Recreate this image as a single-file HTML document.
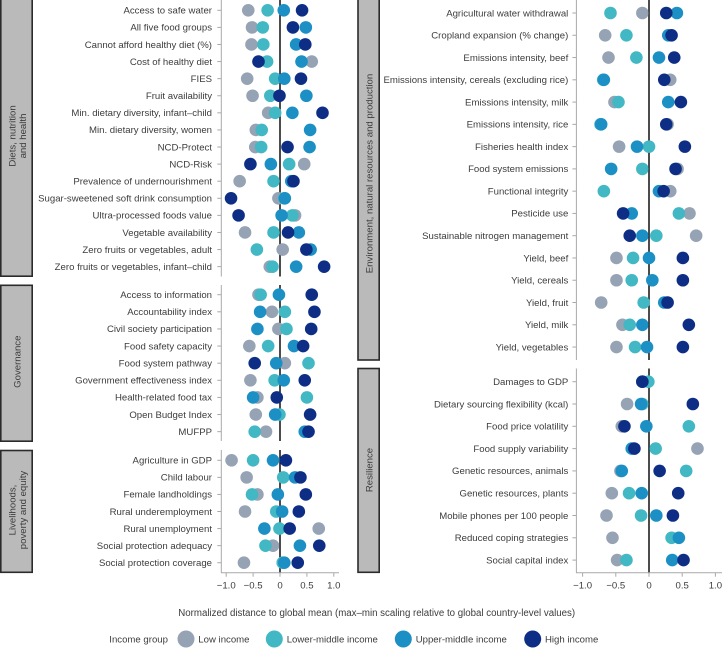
<!DOCTYPE html>
<html lang="en">
<head>
<meta charset="utf-8">
<title>Normalized distance to global mean by income group</title>
<style>
html,body{margin:0;padding:0;background:#fff;}
svg{display:block;font-family:"Liberation Sans",sans-serif;}
text{fill:#3c3c3c;}
</style>
</head>
<body>
<svg id="chart" xmlns="http://www.w3.org/2000/svg" width="722" height="648" viewBox="0 0 722 648"></svg>
<script>
// ---- data: series order is low, lower-middle, upper-middle, high ----
var seriesNames = ['Low income', 'Lower-middle income', 'Upper-middle income', 'High income'];
var tickValues = [-1, -0.5, 0, 0.5, 1];
var tickLabels = ['\u22121.0', '\u22120.5', '0', '0.5', '1.0'];

var dietsLabels = ['Access to safe water','All five food groups','Cannot afford healthy diet (%)','Cost of healthy diet','FIES','Fruit availability','Min. dietary diversity, infant\u2013child','Min. dietary diversity, women','NCD-Protect','NCD-Risk','Prevalence of undernourishment','Sugar-sweetened soft drink consumption','Ultra-processed foods value','Vegetable availability','Zero fruits or vegetables, adult','Zero fruits or vegetables, infant\u2013child'];
var dietsLow = [-0.59,-0.52,-0.53,0.59,-0.61,-0.51,-0.22,-0.45,-0.46,0.45,-0.75,-0.03,0.28,-0.65,0.05,-0.19];
var dietsLower = [-0.23,-0.32,-0.31,-0.24,-0.09,-0.18,-0.09,-0.34,-0.35,0.17,-0.12,0.08,0.23,-0.12,-0.43,-0.14];
var dietsUpper = [0.07,0.48,0.30,0.40,0.08,0.49,0.23,0.56,0.55,-0.17,0.21,0.09,0.03,0.35,0.57,0.30];
var dietsHigh = [0.41,0.24,0.47,-0.40,0.39,-0.01,0.79,null,0.14,-0.55,0.25,-0.91,-0.77,0.15,0.49,0.82];

var govLabels = ['Access to information','Accountability index','Civil society participation','Food safety capacity','Food system pathway','Government effectiveness index','Health-related food tax','Open Budget Index','MUFPP'];
var govLow = [-0.40,-0.15,-0.03,-0.57,0.09,-0.55,-0.42,-0.45,-0.26];
var govLower = [-0.36,0.09,0.12,-0.22,0.53,-0.10,0.50,-0.01,-0.47];
var govUpper = [-0.02,-0.37,-0.42,0.26,-0.07,0.07,-0.50,-0.09,0.46];
var govHigh = [0.59,0.64,0.58,0.43,-0.47,0.46,-0.06,0.56,0.53];

var liveLabels = ['Agriculture in GDP','Child labour','Female landholdings','Rural underemployment','Rural unemployment','Social protection adequacy','Social protection coverage'];
var liveLow = [-0.90,-0.62,-0.42,-0.65,0.72,-0.13,-0.67];
var liveLower = [-0.50,0.06,-0.52,-0.07,-0.01,-0.27,0.05];
var liveUpper = [-0.13,0.28,-0.04,0.04,-0.29,0.37,0.08];
var liveHigh = [0.11,0.38,0.48,0.35,0.18,0.73,0.33];

var envLabels = ['Agricultural water withdrawal','Cropland expansion (% change)','Emissions intensity, beef','Emissions intensity, cereals (excluding rice)','Emissions intensity, milk','Emissions intensity, rice','Fisheries health index','Food system emissions','Functional integrity','Pesticide use','Sustainable nitrogen management','Yield, beef','Yield, cereals','Yield, fruit','Yield, milk','Yield, vegetables'];
var envLow = [-0.10,-0.66,-0.61,0.32,-0.52,0.28,-0.45,0.43,0.32,0.61,0.71,-0.49,-0.49,-0.72,-0.40,-0.49];
var envLower = [-0.58,-0.34,-0.19,-0.69,-0.46,-0.73,0,-0.10,-0.68,0.45,0.11,-0.24,-0.26,-0.08,-0.29,-0.21];
var envUpper = [0.42,0.29,0.15,-0.68,0.29,-0.72,-0.18,-0.57,0.15,-0.26,-0.10,0,0.05,0.23,-0.10,-0.03];
var envHigh = [0.26,0.34,0.38,0.23,0.48,0.26,0.54,0.40,0.22,-0.39,-0.29,0.51,0.51,0.28,0.60,0.51];

var resLabels = ['Damages to GDP','Dietary sourcing flexibility (kcal)','Food price volatility','Food supply variability','Genetic resources, animals','Genetic resources, plants','Mobile phones per 100 people','Reduced coping strategies','Social capital index'];
var resLow = [-0.10,-0.33,-0.41,0.73,-0.43,-0.56,-0.64,-0.55,-0.48];
var resLower = [-0.01,-0.10,0.60,0.10,0.56,-0.30,-0.12,0.34,-0.34];
var resUpper = [-0.10,-0.12,-0.04,-0.26,-0.41,-0.11,0.11,0.45,0.35];
var resHigh = [-0.10,0.66,-0.37,-0.22,0.16,0.44,0.36,null,0.52];

// ---- drawing ----
var svg = document.getElementById('chart');
var NS = 'http://www.w3.org/2000/svg';
var seriesColors = ['#95a3b4', '#41b8c4', '#1c90c4', '#0e2e86'];
var seriesSlugs = ['low-income', 'lower-middle-income', 'upper-middle-income', 'high-income'];
var LABEL_SIZE = 9.6;

function mk(tag, attrs, parent) {
  var el = document.createElementNS(NS, tag);
  for (var k in attrs) el.setAttribute(k, attrs[k]);
  (parent || svg).appendChild(el);
  return el;
}
function txt(str, attrs, parent) {
  var el = mk('text', attrs, parent);
  el.textContent = str;
  return el;
}
function xScaleLeft(v) { return 280 + v * 53.8; }
function xScaleRight(v) { return 649 + v * 66.4; }

function drawPanel(slug, labels, series, xScale, axisX, top, bottom, firstY, stepY, labelGap) {
  var g = mk('g', {});
  
  

  var axis = mk('line', {x1: axisX, x2: axisX, y1: top, y2: bottom, stroke: '#a9a9a9', 'stroke-width': 1}, g);
  
  

  labels.forEach(function (label, i) {
    var y = firstY + i * stepY;
    var tick = mk('line', {x1: axisX - 4, x2: axisX, y1: y, y2: y, stroke: '#a9a9a9', 'stroke-width': 1}, g);
    
    
    var t = txt(label, {x: axisX - labelGap, y: y + 3.3, 'text-anchor': 'end', 'font-size': LABEL_SIZE}, g);
    
    
  });

  var zero = mk('line', {x1: xScale(0), x2: xScale(0), y1: top, y2: bottom, stroke: '#000', 'stroke-width': 1.4}, g);
  
  

  series.forEach(function (values, s) {
    values.forEach(function (v, i) {
      if (v === null) return;
      var c = mk('circle', {cx: xScale(v), cy: firstY + i * stepY, r: 6.3, fill: seriesColors[s]}, g);
      
      
    });
  });
}

function drawBox(slug, x, y, w, h, lines, cx, cy, gap) {
  var r = mk('rect', {x: x, y: y, width: w, height: h, fill: '#bababa', stroke: '#2b2b2b', 'stroke-width': 1.6});
  
  
  lines.forEach(function (line, i) {
    var tx = cx + (i - (lines.length - 1) / 2) * gap;
    var t = txt(line, {x: 0, y: 0, 'text-anchor': 'middle', 'font-size': LABEL_SIZE,
      transform: 'translate(' + (tx + 3.3) + ',' + cy + ') rotate(-90)'});
    
    
  });
}

function drawXAxis(slug, xScale, axisStart, axisEnd, y) {
  var a = mk('line', {x1: axisStart, x2: axisEnd, y1: y, y2: y, stroke: '#a9a9a9', 'stroke-width': 1});
  
  
  tickValues.forEach(function (v, i) {
    var x = xScale(v);
    var tick = mk('line', {x1: x, x2: x, y1: y, y2: y + 4, stroke: '#a9a9a9', 'stroke-width': 1});
    
    
    var t = txt(tickLabels[i], {x: x, y: y + 16, 'text-anchor': 'middle', 'font-size': LABEL_SIZE});
    
    
  });
}

drawBox('diets', 0.8, -2, 31.4, 278.2, ['Diets, nutrition', 'and health'], 17.5, 136, 10.4);
drawBox('governance', 0.8, 285.3, 31.4, 155.9, ['Governance'], 17, 361.7, 0);
drawBox('livelihoods', 0.8, 450.5, 31.4, 121.8, ['Livelihoods,', 'poverty and equity'], 17.5, 510, 10.4);
drawBox('environment', 358, -2, 21.2, 362, ['Environment, natural resources and production'], 369, 173.5, 0);
drawBox('resilience', 358, 368.5, 21.2, 203.8, ['Resilience'], 369, 470, 0);

drawPanel('diets', dietsLabels, [dietsLow, dietsLower, dietsUpper, dietsHigh], xScaleLeft, 221.3, 0, 276.5, 10.3, 17.09, 9.3);
drawPanel('governance', govLabels, [govLow, govLower, govUpper, govHigh], xScaleLeft, 221.3, 285, 441, 294.7, 17.12, 9.3);
drawPanel('livelihoods', liveLabels, [liveLow, liveLower, liveUpper, liveHigh], xScaleLeft, 221.3, 450, 572.7, 460.3, 17.07, 9.3);
drawPanel('environment', envLabels, [envLow, envLower, envUpper, envHigh], xScaleRight, 576.4, 0, 360, 13, 22.27, 8.1);
drawPanel('resilience', resLabels, [resLow, resLower, resUpper, resHigh], xScaleRight, 576.4, 368.5, 572.7, 381.7, 22.3, 8.1);

drawXAxis('left', xScaleLeft, 221, 339, 572.7);
drawXAxis('right', xScaleRight, 576, 722, 572.7);

var axisTitle = txt('Normalized distance to global mean (max\u2013min scaling relative to global country-level values)', {x: 376.7, y: 616, 'text-anchor': 'middle', 'font-size': 9.7});



var legendTitle = txt('Income group', {x: 109.3, y: 642.5, 'font-size': LABEL_SIZE});



var legendCircleX = [186, 274.3, 403.3, 532.7];
var legendTextX = [198.3, 286.7, 415.7, 545];
seriesNames.forEach(function (name, s) {
  var c = mk('circle', {cx: legendCircleX[s], cy: 639, r: 8.5, fill: seriesColors[s]});
  
  
  var t = txt(name, {x: legendTextX[s], y: 642.5, 'font-size': LABEL_SIZE});
  
  
});
</script>
</body>
</html>
